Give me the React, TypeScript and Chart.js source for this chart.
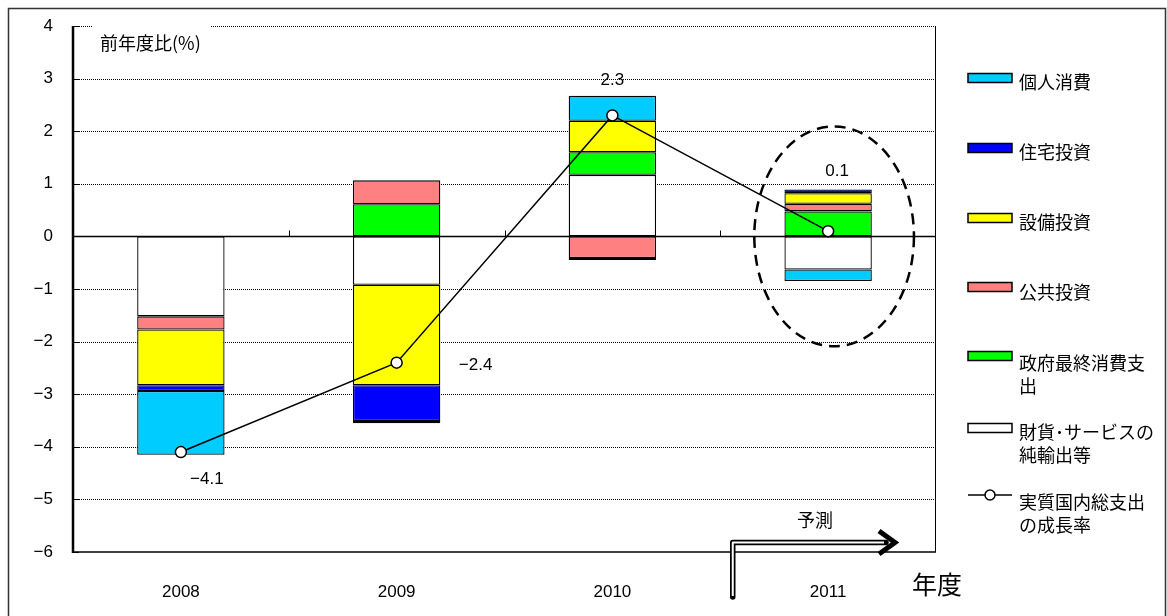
import React, { useEffect, useRef } from 'react';
import { Chart, registerables } from 'chart.js';

Chart.register(...registerables);

// ---- data ----
const categories = ['2008', '2009', '2010', '2011'];
const netExports = [-1.52, -0.92, 1.17, -0.63];
const govConsumption = [0.0, 0.61, 0.43, 0.475];
const publicInvestment = [-0.25, 0.456, -0.41, 0.146];
const businessInvestment = [-1.06, -1.91, 0.6, 0.2];
const housingInvestment = [-0.11, -0.68, -0.04, 0.07];
const privateConsumption = [-1.21, -0.04, 0.475, -0.22];
const gdpGrowth = [-4.1, -2.4, 2.3, 0.1];
const gdpLabels = ['\u22124.1', '\u22122.4', '2.3', '0.1'];
const yTicks = [4, 3, 2, 1, 0, -1, -2, -3, -4, -5, -6];

const seriesNames = ['個人消費', '住宅投資', '設備投資', '公共投資', '政府最終消費支出', '財貨･サービスの純輸出等', '実質国内総支出の成長率'];
const legendLines = [
  ['個人消費'],
  ['住宅投資'],
  ['設備投資'],
  ['公共投資'],
  ['政府最終消費支', '出'],
  ['財貨･サービスの', '純輸出等'],
  ['実質国内総支出', 'の成長率'],
];
const colors = ['#00CCFF', '#0000FF', '#FFFF00', '#FF8080', '#00FF00', '#FFFFFF'];

// ---- layout (not data) ----
const JP = '"Noto Sans CJK JP", "Noto Sans", sans-serif';
const NUM = '"Liberation Sans", Arial, sans-serif';
const legendTextY = [82, 152, 222, 292, 363, 432, 502];
const legendSwatchY = [78, 148, 218, 287, 356, 428, 495];
const gdpLabelOffsets = [[26, 27], [79, 3], [0, -35], [9, -60]];

const decorPlugin = {
  id: 'decor',
  beforeDatasetsDraw(chart: any) {
    const { ctx, chartArea: a, scales } = chart;
    const y = scales.y;
    ctx.save();
    // dotted grid lines
    ctx.strokeStyle = '#000';
    ctx.lineWidth = 1;
    ctx.setLineDash([1, 1]);
    yTicks.forEach((v) => {
      if (v === 0 || v === -6) return;
      const py = Math.round(y.getPixelForValue(v)) + 0.5;
      ctx.beginPath();
      ctx.moveTo(a.left, py);
      ctx.lineTo(a.right, py);
      ctx.stroke();
    });
    ctx.setLineDash([]);
    // short inner ticks
    yTicks.forEach((v) => {
      const py = Math.round(y.getPixelForValue(v)) + 0.5;
      ctx.beginPath();
      ctx.moveTo(a.left, py);
      ctx.lineTo(a.left + 6, py);
      ctx.stroke();
    });
    // zero line
    const y0 = Math.round(y.getPixelForValue(0)) + 0.5;
    ctx.lineWidth = 1.5;
    ctx.beginPath();
    ctx.moveTo(a.left, y0);
    ctx.lineTo(a.right, y0);
    ctx.stroke();
    // category separators on zero line
    const catW = (a.right - a.left) / categories.length;
    ctx.lineWidth = 1;
    for (let k = 1; k < categories.length; k++) {
      const px = Math.round(a.left + k * catW) + 0.5;
      ctx.beginPath();
      ctx.moveTo(px, y0 - 6);
      ctx.lineTo(px, y0);
      ctx.stroke();
    }
    // bottom & right border
    ctx.lineWidth = 1.5;
    ctx.beginPath();
    ctx.moveTo(a.left, a.bottom);
    ctx.lineTo(a.right, a.bottom);
    ctx.stroke();
    ctx.lineWidth = 1;
    ctx.beginPath();
    ctx.moveTo(Math.round(a.right) - 0.5, a.top);
    ctx.lineTo(Math.round(a.right) - 0.5, a.bottom);
    ctx.stroke();
    ctx.restore();
  },
  afterDraw(chart: any) {
    const { ctx, chartArea: a, scales } = chart;
    const x = scales.x;
    const y = scales.y;
    const catW = (a.right - a.left) / categories.length;
    ctx.save();

    // left axis
    ctx.strokeStyle = '#000';
    ctx.lineWidth = 2.5;
    ctx.beginPath();
    ctx.moveTo(a.left, a.top);
    ctx.lineTo(a.left, a.bottom + 1);
    ctx.stroke();

    // title box
    ctx.fillStyle = '#fff';
    ctx.fillRect(a.left + 20, a.top - 6, 118, 36);
    ctx.fillStyle = '#000';
    ctx.font = `18px ${JP}`;
    ctx.textAlign = 'left';
    ctx.textBaseline = 'middle';
    ctx.fillText('前年度比(%)', a.left + 27, 43);

    // GDP labels
    ctx.font = `17px ${NUM}`;
    ctx.textAlign = 'center';
    gdpGrowth.forEach((v, i) => {
      const px = x.getPixelForValue(i) + gdpLabelOffsets[i][0];
      const py = y.getPixelForValue(v) + gdpLabelOffsets[i][1];
      ctx.fillText(gdpLabels[i], px, py);
    });

    // dashed ellipse around forecast
    const cx = x.getPixelForValue(3) + 6;
    const cy = y.getPixelForValue(0);
    const rx = catW * 0.37;
    const ry = y.getPixelForValue(0) - y.getPixelForValue(2.09);
    ctx.lineWidth = 2.5;
    ctx.setLineDash([11, 7]);
    ctx.beginPath();
    ctx.ellipse(cx, cy, rx, ry, 0, 0, Math.PI * 2);
    ctx.stroke();
    ctx.setLineDash([]);

    // forecast arrow
    const bx = a.left + 3 * catW + 12.5;
    const ay = 542.5;
    const ax2 = 886;
    ctx.lineJoin = 'round';
    ctx.lineCap = 'round';
    ctx.strokeStyle = '#000';
    ctx.lineWidth = 5.5;
    ctx.beginPath();
    ctx.moveTo(bx, 597);
    ctx.lineTo(bx, ay);
    ctx.lineTo(ax2, ay);
    ctx.stroke();
    ctx.lineCap = 'butt';
    ctx.strokeStyle = '#fff';
    ctx.lineWidth = 2;
    ctx.beginPath();
    ctx.moveTo(bx, 596);
    ctx.lineTo(bx, ay);
    ctx.lineTo(ax2 - 2, ay);
    ctx.stroke();
    ctx.strokeStyle = '#000';
    ctx.lineWidth = 5;
    ctx.lineJoin = 'miter';
    ctx.beginPath();
    ctx.moveTo(879, 531);
    ctx.lineTo(895, ay);
    ctx.lineTo(879, 554);
    ctx.stroke();

    ctx.fillStyle = '#000';
    ctx.font = `18px ${JP}`;
    ctx.textAlign = 'center';
    ctx.fillText('予測', 815, 520);
    ctx.font = `25px ${JP}`;
    ctx.fillText('年度', 937, 584);

    // legend
    const sx = 968;
    const sw = 44;
    const sh = 9;
    ctx.textAlign = 'left';
    ctx.font = `18px ${JP}`;
    legendLines.forEach((lines, i) => {
      const syc = legendSwatchY[i];
      if (i < colors.length) {
        ctx.fillStyle = colors[i];
        ctx.fillRect(sx, syc - sh / 2, sw, sh);
        ctx.strokeStyle = '#000';
        ctx.lineWidth = 1.5;
        ctx.strokeRect(sx, syc - sh / 2, sw, sh);
      } else {
        ctx.strokeStyle = '#000';
        ctx.lineWidth = 1.5;
        ctx.beginPath();
        ctx.moveTo(sx, syc);
        ctx.lineTo(sx + sw, syc);
        ctx.stroke();
        ctx.fillStyle = '#fff';
        ctx.beginPath();
        ctx.arc(sx + sw / 2, syc, 5, 0, Math.PI * 2);
        ctx.fill();
        ctx.stroke();
      }
      ctx.fillStyle = '#000';
      lines.forEach((t, j) => {
        ctx.fillText(t, 1019, legendTextY[i] + j * 23.5);
      });
    });

    // outer frame
    ctx.strokeStyle = '#333';
    ctx.lineWidth = 1.5;
    ctx.strokeRect(8.5, 8.5, 1157, 800);
    ctx.restore();
  },
};

export default function App() {
  const ref = useRef<HTMLCanvasElement | null>(null);

  useEffect(() => {
    if (!ref.current) return;
    const barSeries = [
      { name: seriesNames[5], data: netExports, color: colors[5] },
      { name: seriesNames[4], data: govConsumption, color: colors[4] },
      { name: seriesNames[3], data: publicInvestment, color: colors[3] },
      { name: seriesNames[2], data: businessInvestment, color: colors[2] },
      { name: seriesNames[1], data: housingInvestment, color: colors[1] },
      { name: seriesNames[0], data: privateConsumption, color: colors[0] },
    ];
    const chart = new Chart(ref.current, {
      type: 'bar',
      data: {
        labels: categories,
        datasets: [
          {
            type: 'line',
            label: seriesNames[6],
            data: gdpGrowth,
            borderColor: '#000',
            borderWidth: 1.5,
            pointRadius: 5.5,
            pointBackgroundColor: '#fff',
            pointBorderColor: '#000',
            pointBorderWidth: 1.5,
            tension: 0,
            stack: 'gdp',
            order: 0,
          } as any,
          ...barSeries.map((s) => ({
            type: 'bar',
            label: s.name,
            data: s.data,
            backgroundColor: s.color,
            borderColor: '#000',
            borderWidth: 1.3,
            borderSkipped: false,
            barPercentage: 0.405,
            categoryPercentage: 1,
            order: 1,
          })) as any,
        ],
      },
      options: {
        responsive: false,
        animation: false,
        devicePixelRatio: 1,
        layout: { padding: { left: 0, right: 231, top: 26, bottom: 0 } },
        plugins: { legend: { display: false }, tooltip: { enabled: false } },
        scales: {
          x: {
            stacked: true,
            grid: { display: false },
            border: { display: false },
            ticks: { color: '#000', font: { size: 17, family: NUM }, padding: 22 },
            afterFit: (s: any) => {
              s.height = 64;
            },
          },
          y: {
            stacked: true,
            min: -6,
            max: 4,
            grid: { display: false },
            border: { display: false },
            ticks: {
              color: '#000',
              font: { size: 17, family: NUM },
              padding: 12,
              callback: (v: any) => String(v).replace('-', '\u2212'),
            },
            afterBuildTicks: (s: any) => {
              s.ticks = yTicks.map((v) => ({ value: v }));
            },
            afterFit: (s: any) => {
              s.width = 73;
            },
          },
        },
      } as any,
      plugins: [decorPlugin],
    });
    return () => chart.destroy();
  }, []);

  return (
    <div style={{ position: 'fixed', left: 0, top: 0, width: 1167, height: 616, background: '#fff', overflow: 'hidden' }}>
      <canvas ref={ref} width={1167} height={616} style={{ display: 'block', width: 1167, height: 616 }} />
    </div>
  );
}
